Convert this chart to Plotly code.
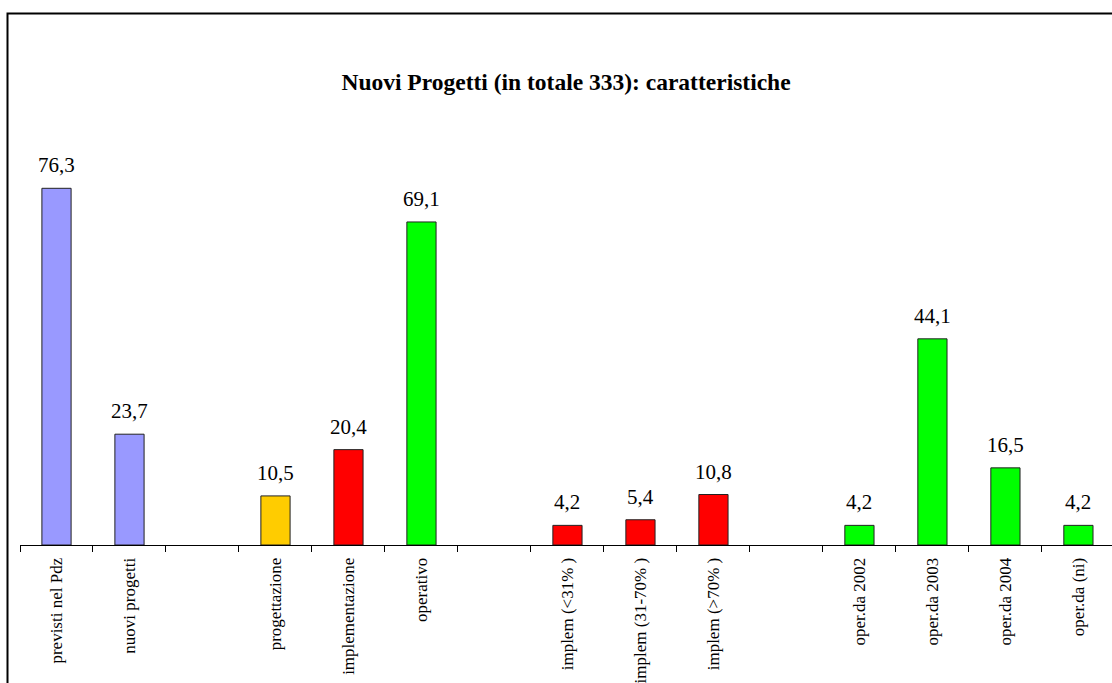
import plotly.graph_objects as go

categories = ["previsti nel Pdz", "nuovi progetti", " ", "progettazione", "implementazione",
              "operativo", "  ", "implem (<31% )", "implem (31-70% )", "implem (>70% )",
              "   ", "oper.da 2002", "oper.da 2003", "oper.da 2004", "oper.da (ni)"]
values = [76.3, 23.7, None, 10.5, 20.4, 69.1, None, 4.2, 5.4, 10.8, None, 4.2, 44.1, 16.5, 4.2]
value_labels = ["76,3", "23,7", "", "10,5", "20,4", "69,1", "", "4,2", "5,4", "10,8", "", "4,2", "44,1", "16,5", "4,2"]
colors = ["#9999FF", "#9999FF", "#FFFFFF", "#FFCC00", "#FF0000", "#00FF00", "#FFFFFF",
          "#FF0000", "#FF0000", "#FF0000", "#FFFFFF", "#00FF00", "#00FF00", "#00FF00", "#00FF00"]
title = "Nuovi Progetti (in totale 333): caratteristiche"

FONT = "Liberation Serif, Times New Roman, serif"

fig = go.Figure()
fig.add_trace(go.Bar(
    x=categories, y=values, width=0.4,
    marker=dict(color=colors, line=dict(color="#222222", width=1)),
    hoverinfo="skip", showlegend=False,
))

for c, v, t in zip(categories, values, value_labels):
    if v is None:
        continue
    fig.add_annotation(x=c, y=v, text=t, showarrow=False, xref="x", yref="y",
                       yanchor="middle", yshift=23,
                       font=dict(family=FONT, size=21, color="black"))

W, H = 1112, 683
L, R, T, B = 20, 0, 171, 138
fig.update_layout(
    width=W, height=H,
    margin=dict(l=L, r=R, t=T, b=B, autoexpand=False),
    paper_bgcolor="white", plot_bgcolor="white",
    font=dict(family=FONT, color="black"),
    title=dict(text="<b>" + title + "</b>", x=0.5, xref="paper", xanchor="center",
               y=1 - 82 / H, yref="container", yanchor="middle",
               font=dict(family=FONT, size=23.5, color="black")),
    bargap=0.6,
)
fig.update_xaxes(
    type="category", range=[-0.5, 14.46], tickson="boundaries",
    ticks="outside", ticklen=6, tickcolor="black", tickwidth=1,
    showline=True, linecolor="black", linewidth=1,
    tickangle=-90, tickfont=dict(family=FONT, size=17, color="black"),
    ticklabelstandoff=5, automargin=False,
    showgrid=False, zeroline=False,
)
fig.update_yaxes(range=[0, 80], visible=False, showgrid=False, zeroline=False, automargin=False)

# outer chart border (extends beyond the visible page on right and bottom)
pw = W - L - R
ph = H - T - B
fig.add_shape(type="rect", xref="paper", yref="paper",
              x0=(7.5 - L) / pw, x1=(W + 20 - L) / pw,
              y0=-(B + 20) / ph, y1=(H - B - 13.5) / ph,
              line=dict(color="black", width=2), layer="below")
fig.write_html("out.html", config={"displayModeBar": False},
               post_script="document.body.style.margin='0';")
